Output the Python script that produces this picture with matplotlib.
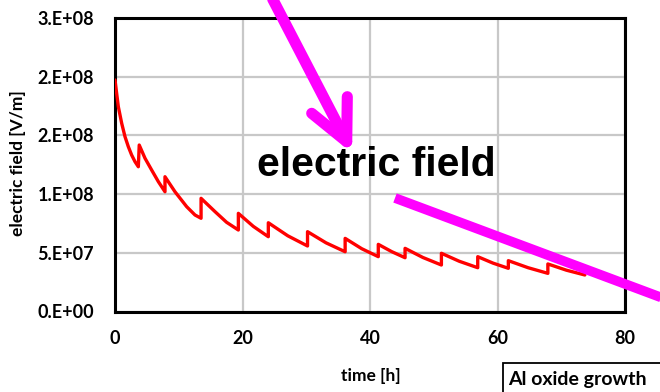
import matplotlib
matplotlib.use("Agg")
import matplotlib.pyplot as plt
from matplotlib.lines import Line2D
from matplotlib.patches import Rectangle
from matplotlib.font_manager import FontProperties

# ================================
# Data:
# ================================

time_h = [0.0, 0.26, 0.52, 1.05, 1.57, 2.09, 2.61, 3.14, 3.66,
          3.8, 4.71, 5.75, 6.8, 7.84,
          7.84, 9.41, 11.24, 12.55, 13.5,
          13.5, 15.7, 17.5, 19.35,
          19.35, 21.7, 24.05,
          24.05, 27.1, 30.2,
          30.2, 33.1, 36.1,
          36.1, 38.7, 41.3,
          41.3, 43.4, 45.5,
          45.5, 48.3, 51.2,
          51.2, 54.0, 56.9,
          56.9, 59.3, 61.7,
          61.7, 64.8, 67.9,
          67.9, 70.8, 73.7]

field_vm = [1.972e8, 1.858e8, 1.745e8, 1.603e8, 1.489e8, 1.404e8, 1.333e8, 1.276e8, 1.233e8,
            1.418e8, 1.305e8, 1.205e8, 1.106e8, 1.02e8,
            1.148e8, 1.02e8, 8.93e7, 8.22e7, 7.94e7,
            9.64e7, 8.5e7, 7.6e7, 6.94e7,
            8.36e7, 7.25e7, 6.37e7,
            7.56e7, 6.45e7, 5.58e7,
            6.8e7, 5.85e7, 5.09e7,
            6.23e7, 5.35e7, 4.67e7,
            5.72e7, 5.1e7, 4.58e7,
            5.38e7, 4.6e7, 3.96e7,
            4.96e7, 4.28e7, 3.73e7,
            4.67e7, 4.12e7, 3.68e7,
            4.33e7, 3.73e7, 3.25e7,
            4.05e7, 3.52e7, 3.11e7]

x_ticks = [0, 20, 40, 60, 80]
y_ticks = [0, 5e7, 1e8, 1.5e8, 2e8, 2.5e8]
y_ticklabels = ["0.E+00", "5.E+07", "1.E+08", "2.E+08", "2.E+08", "3.E+08"]

# ================================
# Plotting:
# ================================

W, H = 660, 392
fig = plt.figure(figsize=(6.6, 3.92), dpi=100)
ax = fig.add_axes([115 / W, 1 - 311.5 / H, 510 / W, 293.5 / H])

ax.plot(time_h, field_vm, color="#ff0000", lw=2.4,
        solid_joinstyle="round", solid_capstyle="round", zorder=3)

ax.set_xlim(0, 80)
ax.set_ylim(0, 2.5e8)
ax.set_xticks(x_ticks)
ax.set_yticks(y_ticks)
ax.set_yticklabels(y_ticklabels)
ax.grid(True, color="#c8c8c8", lw=1.6)
ax.set_axisbelow(True)
for s in ax.spines.values():
    s.set_linewidth(2.2)
    s.set_color("black")

tick_font = dict(family="Lato", weight="bold", size=13)
ax.tick_params(length=0)
ax.tick_params(axis="y", pad=15)
ax.tick_params(axis="x", pad=13)
for lab in ax.get_xticklabels() + ax.get_yticklabels():
    lab.set_fontproperties(FontProperties(**tick_font))

fig.text(18 / W, 1 - 163 / H, "electric field [V/m]", rotation=90,
         ha="center", va="center", family="Lato", weight="bold", size=12.5)
fig.text(371 / W, 1 - 376 / H, "time [h]", ha="center", va="center",
         family="Lato", weight="bold", size=12.5)

# big label inside the plot
fig.text(376 / W, 1 - 165 / H, "electric field", ha="center", va="center",
         family="Liberation Sans", weight="bold", size=29.5)

# magenta arrow + line (figure pixels)
def fx(x):
    return x / W

def fy(y):
    return 1 - y / H

mag = "#ff00ff"
fig.add_artist(Line2D([fx(270), fx(346.7)], [fy(-6), fy(141.7)], color=mag,
                      lw=8, solid_capstyle="round", zorder=10))
fig.add_artist(Line2D([fx(311.7), fx(346.7), fx(347.3)],
                      [fy(113.3), fy(141.7), fy(96.7)], color=mag,
                      lw=8, solid_capstyle="round", solid_joinstyle="round",
                      zorder=10))
fig.add_artist(Line2D([fx(395), fx(680)], [fy(198), fy(304.5)], color=mag,
                      lw=7, solid_capstyle="butt", zorder=10))

# boxed caption at bottom right, running off the edge
fig.add_artist(Rectangle((fx(502.5), fy(400)), fx(180), 37.5 / H,
                         transform=fig.transFigure, fc="white", ec="black",
                         lw=1.3, zorder=11))
fig.text(508 / W, 1 - 379 / H, "Al oxide growth", ha="left", va="center",
         family="Lato", weight="bold", size=14, zorder=12)

plt.savefig("out.png", dpi=100)
